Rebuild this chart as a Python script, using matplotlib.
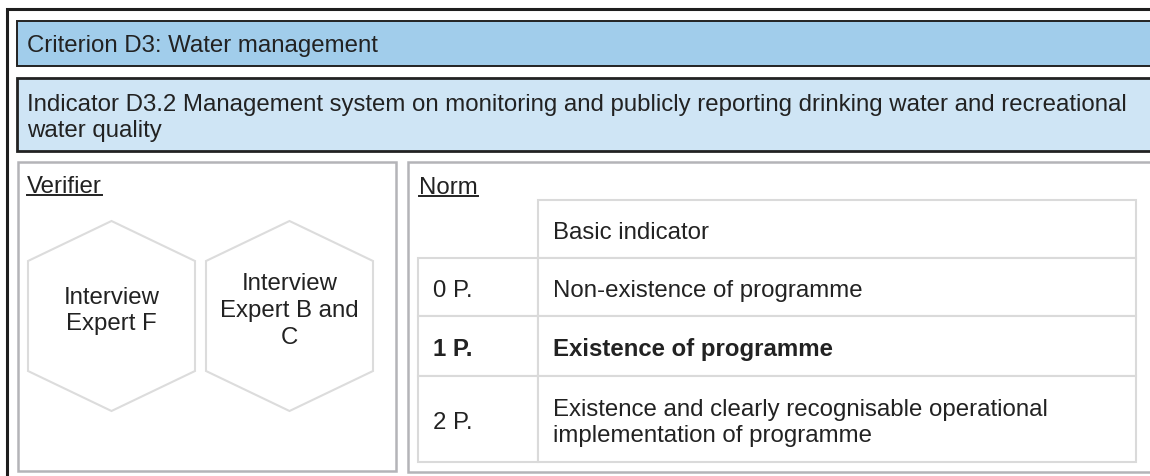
import matplotlib
matplotlib.use("Agg")
import matplotlib.pyplot as plt
from matplotlib.patches import Rectangle, Polygon

plt.rcParams['font.family'] = ['Liberation Sans', 'DejaVu Sans']

# texts of the sheet
criterion = "Criterion D3: Water management"
indicator = ("Indicator D3.2 Management system on monitoring and publicly reporting drinking water and recreational\n"
             "water quality")
verifier_title = "Verifier"
norm_title = "Norm"
verifiers = ["Interview\nExpert F", "Interview\nExpert B and\nC"]
norm_header = "Basic indicator"
points = ["0 P.", "1 P.", "2 P."]
norms = ["Non-existence of programme",
         "Existence of programme",
         "Existence and clearly recognisable operational\nimplementation of programme"]
achieved = "1 P."

W, H = 1150, 477
FS = 17.3
LS = 1.27
TXT = "#222222"

fig = plt.figure(figsize=(W / 100, H / 100), dpi=100)
ax = fig.add_axes([0, 0, 1, 1])
ax.set_xlim(0, W)
ax.set_ylim(H, 0)
ax.axis("off")

# outer frame (top and left only visible)
ax.plot([7, 7, W + 5], [H + 5, 10, 10], color="#1e1e1e", lw=2.2, solid_joinstyle="miter")

# criterion and indicator bars
ax.add_patch(Rectangle((17, 22), W, 45, facecolor="#a1cdeb", edgecolor="#222222", lw=1.4))
ax.text(27, 46, criterion, fontsize=FS, color=TXT, va="center")
ax.add_patch(Rectangle((17, 79), W, 73, facecolor="#cfe5f5", edgecolor="#222222", lw=2.0))
ax.text(27, 118, indicator, fontsize=FS, color=TXT, va="center", linespacing=LS)

# verifier and norm panels
ax.add_patch(Rectangle((18, 163), 378, 309, facecolor="white", edgecolor="#b4b4b8", lw=1.8))
ax.add_patch(Rectangle((408, 163), W, 310, facecolor="white", edgecolor="#b4b4b8", lw=1.8))


def underlined(x, y, s):
    t = ax.text(x, y, s, fontsize=FS, color=TXT, va="center")
    fig.canvas.draw()
    bb = t.get_window_extent().transformed(ax.transData.inverted())
    yl = max(bb.y0, bb.y1) - 2
    ax.plot([bb.x0, bb.x1], [yl, yl], color=TXT, lw=1.4)


underlined(27, 187, verifier_title)
underlined(419, 188, norm_title)

# hexagons with verifier sources
hex_cx = [111.5, 289.5]
for cx, label in zip(hex_cx, verifiers):
    cy, hw, hh = 317, 83.5, 95
    pts = [(cx, cy - hh), (cx + hw, cy - 55), (cx + hw, cy + 55),
           (cx, cy + hh), (cx - hw, cy + 55), (cx - hw, cy - 55)]
    ax.add_patch(Polygon(pts, closed=True, facecolor="white", edgecolor="#dcdcdc", lw=1.5))
    ax.text(cx, 311, label, fontsize=FS, color=TXT, ha="center", va="center", linespacing=LS)

# norm table
grid = "#dadada"
col_x = [418, 538, 1136]
row_y = [201, 259, 317, 377, 463]
ax.add_patch(Rectangle((col_x[1], row_y[0]), col_x[2] - col_x[1], row_y[1] - row_y[0],
                       facecolor="white", edgecolor=grid, lw=1.5))
ax.text(553, (row_y[0] + row_y[1]) / 2 + 3, norm_header, fontsize=FS, color=TXT, va="center")
for i, (p, n) in enumerate(zip(points, norms)):
    y0, y1 = row_y[i + 1], row_y[i + 2]
    ax.add_patch(Rectangle((col_x[0], y0), col_x[1] - col_x[0], y1 - y0,
                           facecolor="white", edgecolor=grid, lw=1.5))
    ax.add_patch(Rectangle((col_x[1], y0), col_x[2] - col_x[1], y1 - y0,
                           facecolor="white", edgecolor=grid, lw=1.5))
    wt = "bold" if p == achieved else "normal"
    ym = (y0 + y1) / 2 + 3
    ax.text(433, ym, p, fontsize=FS, color=TXT, va="center", fontweight=wt)
    ax.text(553, ym, n, fontsize=FS, color=TXT, va="center", fontweight=wt, linespacing=LS)

fig.savefig("out.png", dpi=100)
